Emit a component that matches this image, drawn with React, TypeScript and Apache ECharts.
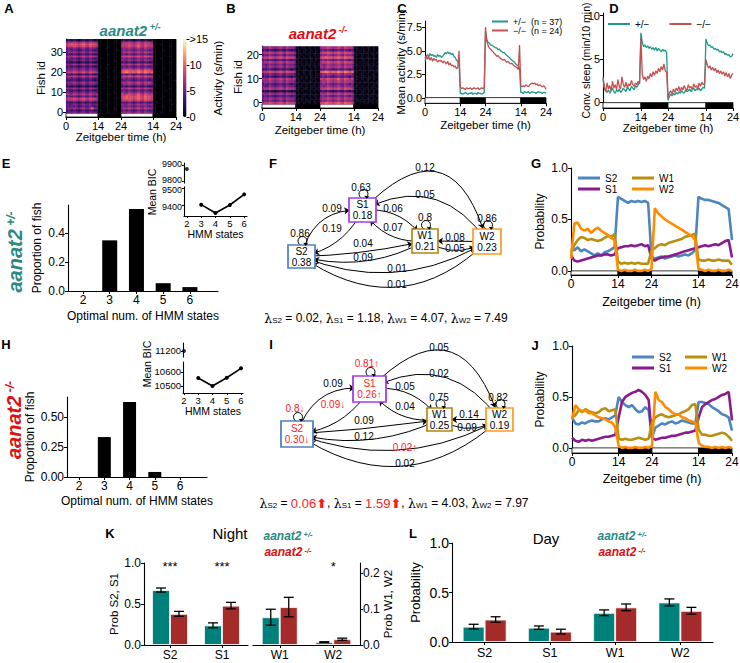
import React, { useEffect, useRef } from 'react';
import * as echarts from 'echarts';

const FONT = '"Liberation Sans", Arial, Helvetica, sans-serif';
const TEAL_LINE = '#1d9a8c';
const RED_LINE = '#c45050';
const TEAL_BAR = '#00807a';
const RED_BAR = '#a52a2a';
const TEAL_TXT = '#2a8a82';
const RED_TXT = '#e01010';
const RED = '#ff1a1a';
const STATE_COLORS = ['#4c86c0', '#8b1a8e', '#b8900f', '#ff8c00'];
const BOX_COLORS = ['#4f83be', '#a53be6', '#b8860b', '#ff9a1f'];
const MAGMA = ['#000004', '#1c1044', '#4f127b', '#812581', '#b5367a', '#e55064', '#fb8761', '#fec287', '#fcfdbf'];

// ---------------- data ----------------
const zeitTicks = [0, 14, 24, 38, 48];
const lightDark = [[0, 14, 0], [14, 24, 1], [24, 38, 0], [38, 48, 1]];

// activity heatmaps: one hex digit per hour (0..15 s/min), rows = fish id from 0 upwards
const heatHetRows = [
  '45565456546554|0000100000|56676567657665|0001000000',
  '34343234334323|0100000000|45454345445434|0000000100',
  '56676567657a65|0000000100|67787678768776|1000000000',
  '44545345445434|0000000000|55565456556545|0000100000',
  '54565456556455|0001000000|65676567667566|0000000010',
  '33343234234323|0000100000|44454345345434|0100000000',
  '67787678768776|0100000000|78898789879887|0000000100',
  '78898789879887|0000000010|89a9989a98a998|0001000000',
  '45454345445434|1000000000|89a9989a98a998|0000100000',
  '76787678768767|0000100000|8789878a879878|0000000000',
  '55465456546554|0000000100|66576567657665|0100000000',
  '34343234334323|0000000000|45454345445434|0000010000',
  '65676567657665|0010000000|76787678768776|0000000100',
  '23232123223212|0000000000|34343234334323|0000000000',
  '45565456546554|0000010000|56676567657665|1000000000',
  '56676567657665|0000000000|67787678768786|0000100000',
  '33443234334323|0100000000|44554345445434|0000000001',
  '45454345445434|0000000100|56565456556545|0000000000',
  '67787678768776|0000100000|78898789879887|0010000000',
  '34343234334323|0000000000|45454345445434|0000001000',
  '78898789879887|1000000000|9aba9a9ba9ba9a|0000000100',
  '56676567657665|0000000100|89a9989a98a998|0000000000',
  '45565456546554|0001000000|56676567657665|0000100000',
  '34343234334323|0000000000|45454345445434|0000000000',
  '65676567657665|0000100000|76787678768776|0100000000',
  '23232123223212|0000000000|34343234334323|0000000100',
  '54565456546554|0000000100|65676567657665|0000000000',
  '45454345445434|0100000000|56565456556545|0001000000',
  '67787678768776|0000000000|78898789879887|0000000100',
  '34343234334323|0000100000|45454345445434|0000000000',
  '56676567657665|0000000000|67787678768776|1000000000',
  '45454345445434|0000000010|56565456556545|0000100000',
  '45565456546554|0001000000|56676567657665|0000000000',
  '78898789879887|0000100000|8789878a879878|0000000100',
  '89a9989a98a998|0000000000|78898789879887|0001000000',
  '67787678768776|0000000100|67787678768776|0000000000',
  '23232123223212|0000000000|23232123223212|0000000000',
];
const heatMutRows = [
  '78898789879887|1101010110|89a9989a98a998|1010110101',
  '45565456546554|1010110101|56676567657665|0110101101',
  '56676567657665|0110101011|67787678768776|1101011010',
  '45454345445434|1011010110|56565456556545|1010101101',
  '65676567657665|0101101010|76787678768776|1011010110',
  '23232123223212|1010010101|34343234334323|0101101010',
  '67787678768776|1101101011|78898789879887|1010110101',
  '54565456546554|0110101101|65676567657665|1101010110',
  '45454345445434|1010110101|56565456556545|0110101011',
  '56676567657665|1101011010|67787678768776|1010110101',
  '76787678768767|0110101101|8789878a879878|1101011010',
  '34343234334323|1010101010|45454345445434|0101101010',
  '45565456546554|1101011011|56676567657665|1011010110',
  '78898789879887|1011011010|9aba9a9ba9ba9a|1101101011',
  '33443234334323|0101101010|44554345445434|1010101101',
  '65676567657665|1101010110|76787678768776|0110101101',
  '54565456546554|1010110101|65676567657665|1101011010',
  '67787678768776|0110101101|78898789879887|1010110101',
  '45454345445434|1010101010|56565456556545|0101101010',
  '78898789879887|1101011011|89a9989a98a998|1011011010',
  '45565456546554|0110110101|56676567657665|1101010110',
  '67787678768776|1101010110|78898789879887|1010110101',
  '34343234334323|0101101010|45454345445434|0110101010',
  '56676567657665|1011010101|67787678768776|1101011010',
];

// C: mean activity (s/min), every 0.5 h from 0 to 48 h
const actHet = [
  3.9, 4.3, 4.6, 4.4, 4.7, 4.5, 4.6, 4.4, 4.5, 4.3, 4.6, 4.4, 4.5, 4.3, 4.4, 4.6, 4.8, 4.7, 4.9, 4.7, 4.8, 4.6, 4.7, 4.4, 4.3, 4.0, 3.9, 3.7,
  0.5, 0.5, 0.4, 0.5, 0.6, 0.5, 0.4, 0.5, 0.5, 0.6, 0.4, 0.5, 0.5, 0.4, 0.6, 0.5, 0.5, 0.4, 0.5, 0.6,
  7.0, 6.2, 5.9, 5.8, 5.6, 5.6, 5.5, 5.4, 5.3, 5.3, 5.1, 5.2, 5.0, 4.9, 4.8, 4.8, 4.6, 4.5, 4.4, 4.3, 4.1, 4.0, 3.9, 3.8, 3.6, 3.5, 3.4, 3.2,
  0.6, 0.6, 0.5, 0.7, 0.6, 0.6, 0.7, 0.5, 0.6, 0.7, 0.6, 0.6, 0.5, 0.6, 0.7, 0.6, 0.6, 0.5, 0.6, 0.6, 0.5,
];
const actMut = [
  4.2, 4.5, 4.1, 4.4, 4.0, 4.3, 3.9, 4.2, 4.0, 4.1, 3.8, 4.0, 3.9, 4.0, 3.7, 3.9, 3.8, 3.6, 3.9, 3.5, 3.7, 3.4, 3.5, 3.3, 3.4, 3.1, 3.2, 5.0,
  1.2, 1.0, 1.1, 1.0, 0.9, 1.1, 1.0, 1.0, 1.1, 0.9, 1.0, 1.1, 1.0, 1.0, 1.1, 0.9, 1.0, 1.1, 1.0, 1.1,
  7.5, 6.0, 5.6, 5.3, 5.2, 5.0, 4.9, 4.7, 4.6, 4.4, 4.5, 4.3, 4.2, 4.1, 4.0, 4.1, 3.9, 3.8, 3.9, 3.7, 3.6, 3.7, 3.5, 3.4, 3.3, 3.2, 3.0, 5.6,
  1.3, 1.2, 1.3, 1.2, 1.4, 1.3, 1.2, 1.4, 1.5, 1.6, 1.5, 1.6, 1.4, 1.5, 1.3, 1.4, 1.3, 1.2, 1.3, 1.2, 0.9,
];
// D: conv. sleep (min/10 min), every 0.5 h
const sleepHet = [
  2.7, 1.6, 1.3, 1.1, 1.4, 1.0, 1.3, 1.6, 1.2, 1.0, 1.4, 1.2, 1.5, 1.1, 1.3, 1.6, 1.4, 1.2, 1.7, 1.5, 1.3, 1.8, 1.6, 1.4, 1.9, 1.7, 2.0, 2.2,
  8.0, 6.9, 6.4, 6.6, 6.3, 6.5, 6.2, 6.4, 6.1, 6.3, 6.0, 6.3, 5.9, 6.2, 6.0, 5.8, 6.1, 5.9, 6.0, 5.7,
  0.2, 0.6, 0.9, 0.7, 1.0, 0.8, 1.1, 0.9, 1.2, 1.0, 1.3, 1.1, 1.0, 1.4, 1.2, 1.3, 1.5, 1.2, 1.4, 1.6, 1.3, 1.5, 1.4, 1.6, 1.3, 1.5, 1.7, 1.6,
  7.3, 6.8, 6.5, 6.6, 6.3, 6.4, 6.1, 6.2, 6.0, 6.1, 5.8, 5.9, 5.7, 5.8, 5.5, 5.6, 5.4, 5.5, 5.2, 5.3, 5.6,
];
const sleepMut = [
  2.9, 1.7, 1.2, 2.2, 1.5, 1.9, 1.3, 2.4, 1.6, 2.0, 1.4, 2.6, 1.8, 1.5, 2.9, 2.0, 1.7, 2.3, 1.6, 2.1, 1.9, 2.5, 2.0, 1.8, 2.2, 2.0, 2.4, 2.1,
  7.5, 3.2, 2.6, 2.9, 2.4, 3.0, 2.7, 3.3, 2.9, 3.5, 3.1, 3.6, 3.3, 3.9, 3.5, 4.1, 3.7, 4.4, 3.6, 3.4,
  0.5, 1.0, 1.3, 0.9, 1.5, 1.1, 1.6, 1.3, 1.8, 1.2, 1.7, 1.4, 1.9, 1.5, 1.3, 2.0, 1.6, 1.8, 1.4, 2.1, 1.7, 1.9, 1.5, 2.2, 1.8, 2.3, 2.0, 2.1,
  4.9, 4.3, 3.9, 4.2, 3.7, 4.0, 3.6, 3.9, 3.4, 3.7, 3.3, 3.6, 3.2, 3.5, 3.0, 3.4, 2.9, 3.3, 2.7, 3.1, 3.3,
];

// E / H: optimal number of HMM states
const hmmStates = [2, 3, 4, 5, 6];
const propHet = [0, 0.351, 0.568, 0.054, 0.027];
const propMut = [0, 0.333, 0.625, 0.042, 0];
const bicHet = [9876, 9402, 9352, 9400, 9464];
const bicMut = [11200, 10557, 10500, 10559, 10626];

// F / I: 4-state HMM
const states = ['S2', 'S1', 'W1', 'W2'];
const occHet = [0.38, 0.18, 0.21, 0.23];
const selfHet = [0.86, 0.63, 0.8, 0.86];
const transHet = [
  ['S2', 'S1', 0.09, ''], ['S1', 'S2', 0.19, ''], ['S1', 'W1', 0.06, ''], ['W1', 'S1', 0.07, ''],
  ['S2', 'W1', 0.04, ''], ['W1', 'S2', 0.09, ''], ['W2', 'W1', 0.08, ''], ['W1', 'W2', 0.05, ''],
  ['S2', 'W2', 0.01, ''], ['W2', 'S2', 0.01, ''], ['S1', 'W2', 0.12, ''], ['W2', 'S1', 0.05, ''],
];
const lambdaHet = [0.02, 1.18, 4.07, 7.49];
const occMut = [0.30, 0.26, 0.25, 0.19];
const occMutFlag = ['down', 'up', '', ''];
const selfMut = [0.8, 0.81, 0.75, 0.82];
const selfMutFlag = ['down', 'up', '', ''];
const transMut = [
  ['S2', 'S1', 0.09, ''], ['S1', 'S2', 0.09, 'down'], ['S1', 'W1', 0.05, ''], ['W1', 'S1', 0.04, ''],
  ['S2', 'W1', 0.09, ''], ['W1', 'S2', 0.12, ''], ['W2', 'W1', 0.14, ''], ['W1', 'W2', 0.09, ''],
  ['S2', 'W2', 0.02, 'up'], ['W2', 'S2', 0.02, ''], ['S1', 'W2', 0.05, ''], ['W2', 'S1', 0.02, ''],
];
const lambdaMut = [0.06, 1.59, 4.03, 7.97];
const lambdaMutFlag = ['up', 'up', '', ''];

// G / J: state probabilities, every hour 0..48
const probHetS2 = [0.22, 0.20, 0.23, 0.19, 0.21, 0.19, 0.17, 0.15, 0.17, 0.15, 0.18, 0.19, 0.21, 0.23, 0.72, 0.70, 0.68, 0.66, 0.68, 0.67, 0.68, 0.67, 0.68, 0.66, 0.14, 0.12, 0.13, 0.14, 0.12, 0.13, 0.14, 0.15, 0.14, 0.15, 0.16, 0.15, 0.17, 0.20, 0.72, 0.70, 0.69, 0.69, 0.68, 0.67, 0.66, 0.64, 0.62, 0.60, 0.30];
const probHetS1 = [0.15, 0.10, 0.09, 0.10, 0.11, 0.12, 0.13, 0.14, 0.15, 0.15, 0.16, 0.16, 0.15, 0.16, 0.22, 0.23, 0.24, 0.24, 0.25, 0.24, 0.25, 0.26, 0.24, 0.25, 0.12, 0.10, 0.12, 0.13, 0.14, 0.14, 0.15, 0.16, 0.17, 0.18, 0.19, 0.20, 0.21, 0.22, 0.23, 0.24, 0.25, 0.24, 0.25, 0.26, 0.25, 0.27, 0.29, 0.30, 0.13];
const probHetW1 = [0.18, 0.25, 0.30, 0.33, 0.32, 0.30, 0.31, 0.30, 0.29, 0.30, 0.32, 0.34, 0.33, 0.36, 0.09, 0.07, 0.08, 0.07, 0.08, 0.07, 0.08, 0.07, 0.07, 0.07, 0.20, 0.22, 0.25, 0.26, 0.25, 0.27, 0.28, 0.29, 0.30, 0.31, 0.33, 0.34, 0.35, 0.36, 0.11, 0.10, 0.10, 0.11, 0.10, 0.10, 0.11, 0.10, 0.10, 0.10, 0.06];
const probHetW2 = [0.12, 0.46, 0.47, 0.41, 0.39, 0.41, 0.37, 0.40, 0.42, 0.39, 0.37, 0.35, 0.32, 0.30, 0.01, 0.00, 0.01, 0.00, 0.00, 0.01, 0.00, 0.00, 0.01, 0.00, 0.02, 0.61, 0.56, 0.53, 0.50, 0.48, 0.46, 0.44, 0.42, 0.40, 0.38, 0.36, 0.34, 0.30, 0.02, 0.01, 0.00, 0.01, 0.00, 0.00, 0.01, 0.00, 0.00, 0.01, 0.00];
const probMutS2 = [0.30, 0.24, 0.23, 0.25, 0.24, 0.26, 0.27, 0.26, 0.26, 0.28, 0.29, 0.28, 0.30, 0.32, 0.50, 0.45, 0.42, 0.40, 0.42, 0.38, 0.35, 0.36, 0.40, 0.37, 0.10, 0.20, 0.22, 0.24, 0.23, 0.25, 0.26, 0.24, 0.25, 0.27, 0.26, 0.25, 0.24, 0.24, 0.45, 0.45, 0.44, 0.43, 0.40, 0.38, 0.36, 0.33, 0.32, 0.30, 0.17];
const probMutS1 = [0.10, 0.07, 0.06, 0.08, 0.07, 0.08, 0.07, 0.08, 0.09, 0.10, 0.11, 0.11, 0.12, 0.13, 0.30, 0.45, 0.50, 0.52, 0.54, 0.55, 0.57, 0.55, 0.52, 0.47, 0.10, 0.08, 0.09, 0.10, 0.10, 0.11, 0.12, 0.12, 0.13, 0.14, 0.15, 0.15, 0.16, 0.17, 0.30, 0.40, 0.43, 0.45, 0.47, 0.48, 0.50, 0.52, 0.53, 0.55, 0.27];
const probMutW1 = [0.30, 0.32, 0.37, 0.35, 0.38, 0.36, 0.35, 0.34, 0.35, 0.38, 0.39, 0.36, 0.37, 0.38, 0.09, 0.08, 0.09, 0.08, 0.08, 0.09, 0.10, 0.09, 0.08, 0.09, 0.25, 0.30, 0.32, 0.33, 0.31, 0.30, 0.31, 0.32, 0.33, 0.35, 0.36, 0.38, 0.42, 0.43, 0.18, 0.13, 0.13, 0.12, 0.12, 0.13, 0.14, 0.15, 0.14, 0.11, 0.07];
const probMutW2 = [0.28, 0.42, 0.38, 0.36, 0.37, 0.34, 0.34, 0.32, 0.30, 0.29, 0.28, 0.26, 0.25, 0.20, 0.02, 0.00, 0.01, 0.00, 0.00, 0.01, 0.00, 0.00, 0.01, 0.00, 0.02, 0.55, 0.47, 0.45, 0.40, 0.38, 0.35, 0.33, 0.33, 0.30, 0.29, 0.27, 0.26, 0.25, 0.05, 0.02, 0.01, 0.01, 0.00, 0.01, 0.00, 0.01, 0.00, 0.01, 0.00];

// K / L: state probabilities at night and during the day
const nightHet = [0.67, 0.24, 0.077, 0.008];
const nightHetErr = [0.025, 0.03, 0.022, 0.001];
const nightMut = [0.38, 0.48, 0.105, 0.016];
const nightMutErr = [0.03, 0.04, 0.027, 0.003];
const nightStars = ['***', '***', '', '*'];
const dayHet = [0.155, 0.145, 0.295, 0.40];
const dayHetErr = [0.024, 0.017, 0.029, 0.035];
const dayMut = [0.227, 0.105, 0.35, 0.315];
const dayMutErr = [0.028, 0.024, 0.034, 0.035];

// ---------------- layout (positions only) ----------------
const diagF = {
  S2: { x: 301.5, y: 256.5, w: 27, h: 23 }, S1: { x: 362.5, y: 210, w: 27, h: 24 },
  W1: { x: 425, y: 241, w: 26, h: 24 }, W2: { x: 487, y: 241.5, w: 28, h: 25 },
};
const curvF = { 'S2>S1': 0.42, 'S1>S2': 0.25, 'S1>W1': 0.3, 'W1>S1': 0.3, 'S2>W1': -0.05, 'W1>S2': 0.2, 'W2>W1': 0, 'W1>W2': -0.3, 'S2>W2': -0.25, 'W2>S2': 0.41, 'S1>W2': 0.86, 'W2>S1': -0.44 };
const lblF = { 'S2>S1': [332, 208], 'S1>S2': [332, 228], 'S1>W1': [393, 208], 'W1>S1': [393, 227], 'S2>W1': [363, 243], 'W1>S2': [363, 257], 'W2>W1': [455, 237], 'W1>W2': [455, 248], 'S2>W2': [397, 268], 'W2>S2': [397, 284], 'S1>W2': [425, 167], 'W2>S1': [425, 194] };
const selfLblF = { S2: [300, 233], S1: [361, 187], W1: [425, 217], W2: [487, 218] };
const diagI = {
  S2: { x: 297, y: 434, w: 32, h: 26 }, S1: { x: 369.5, y: 389, w: 33, h: 26 },
  W1: { x: 439.5, y: 419.5, w: 25, h: 23 }, W2: { x: 499.5, y: 419.5, w: 27, h: 23 },
};
const curvI = { 'S2>S1': 0.42, 'S1>S2': 0.25, 'S1>W1': 0.3, 'W1>S1': 0.3, 'S2>W1': -0.02, 'W1>S2': 0.18, 'W2>W1': 0, 'W1>W2': -0.3, 'S2>W2': -0.23, 'W2>S2': 0.39, 'S1>W2': 0.82, 'W2>S1': -0.43 };
const lblI = { 'S2>S1': [333, 383], 'S1>S2': [333, 404], 'S1>W1': [405, 386], 'W1>S1': [405, 406], 'S2>W1': [364, 420], 'W1>S2': [364, 436], 'W2>W1': [469, 414], 'W1>W2': [467, 427], 'S2>W2': [405, 447], 'W2>S2': [405, 463], 'S1>W2': [439, 347], 'W2>S1': [439, 373] };
const selfLblI = { S2: [295, 408], S1: [367, 363], W1: [439, 397], W2: [498, 397] };

// ---------------- helpers ----------------
const hoursHalf = actHet.map((_, i) => i / 2);
const hours = probHetS2.map((_, i) => i);
const arrowFor = (f) => (f === 'up' ? '↑' : f === 'down' ? '↓' : '');

function rowsToCells(rows) {
  const cells = [];
  rows.forEach((r, i) => {
    const s = r.replace(/\|/g, '');
    for (let j = 0; j < s.length; j++) cells.push([j, i, parseInt(s[j], 16)]);
  });
  return cells;
}

function valAxis(p) {
  const vertical = !!p.vertical;
  return {
    gridIndex: p.gridIndex, type: 'value', min: p.min, max: p.max, position: p.position, show: p.show !== false,
    axisLine: { show: p.line !== false, onZero: false, lineStyle: { color: '#000', width: 1.1 } },
    axisTick: { show: true, length: p.tickLen || 3, lineStyle: { color: '#000', width: 1 }, customValues: p.ticks },
    axisLabel: { show: true, customValues: p.ticks, formatter: p.fmt || ((v) => String(v)), rich: p.rich, color: '#000', fontSize: p.fontSize || 11, fontFamily: FONT, margin: p.margin || 3 },
    splitLine: { show: false },
    name: p.name, nameLocation: 'middle', nameGap: p.nameGap, nameRotate: vertical ? 90 : 0, nameMoveOverlap: false,
    nameTextStyle: { color: '#000', fontSize: p.nameSize || 11.5, fontFamily: FONT },
  };
}
const timeAxis = (gridIndex, fontSize, nameGap) => valAxis({
  gridIndex, min: 0, max: 48, ticks: zeitTicks, fmt: (v) => String(v > 24 ? v - 24 : v),
  fontSize, name: 'Zeitgeber time (h)', nameGap, nameSize: fontSize + 0.5,
});
const hiddenAxis = (gridIndex, min, max) => ({ gridIndex, type: 'value', show: false, min, max });
const catAxis = (gridIndex, data, fontSize) => ({
  gridIndex, type: 'category', data,
  axisLine: { show: true, lineStyle: { color: '#000', width: 1.1 } },
  axisTick: { show: true, alignWithLabel: true, length: 3, lineStyle: { color: '#000' } },
  axisLabel: { color: '#000', fontSize, fontFamily: FONT, margin: 4 },
  splitLine: { show: false },
});
// broken-axis labels of the insets: nudge the upper part up and the lower part down
const upFmt = (v) => '{u|' + v + '}';
const downFmt = (v) => '{d|' + v + '}';
const upRich = { u: { fontSize: 9, fontFamily: FONT, color: '#000', padding: [0, 0, 3, 0] } };
const downRich = { d: { fontSize: 9, fontFamily: FONT, color: '#000', padding: [3, 0, 0, 0] } };

const heatSeries = (idx, cells) => ({
  type: 'custom', xAxisIndex: idx, yAxisIndex: idx, data: cells, silent: true, z: 2,
  encode: { x: 0, y: 1 },
  renderItem: (params, api) => {
    const x = api.value(0), y = api.value(1);
    const a = api.coord([x, y + 0.5]);
    const b = api.coord([x + 1, y - 0.5]);
    return { type: 'rect', shape: { x: a[0], y: a[1], width: b[0] - a[0] + 0.4, height: b[1] - a[1] + 0.4 }, style: { fill: api.visual('color') } };
  },
});
const ldSeries = (idx, yTop, yBot) => ({
  type: 'custom', xAxisIndex: idx, yAxisIndex: idx, data: lightDark, silent: true, z: 1,
  encode: { x: [0, 1] },
  renderItem: (params, api) => {
    const a = api.coord([api.value(0), yTop]);
    const b = api.coord([api.value(1), yBot]);
    return { type: 'rect', shape: { x: a[0], y: a[1], width: b[0] - a[0], height: b[1] - a[1] }, style: { fill: api.value(2) ? '#000' : '#fff', stroke: '#000', lineWidth: 0.8 } };
  },
});
const lineSeries = (name, idx, xs, ys, color, width) => ({
  type: 'line', name, xAxisIndex: idx, yAxisIndex: idx, data: xs.map((t, i) => [t, ys[i]]),
  showSymbol: false, symbol: 'none', lineStyle: { color, width }, itemStyle: { color }, silent: true, z: 3,
});
const barSeries = (idx, data, color, width) => ({
  type: 'bar', xAxisIndex: idx, yAxisIndex: idx, data, barWidth: width, barGap: '0%', silent: true,
  itemStyle: { color, borderColor: 'rgba(255,255,255,0.75)', borderWidth: 1 },
});
const errSeries = (idx, means, errs, offset, cap) => ({
  type: 'custom', xAxisIndex: idx, yAxisIndex: idx, silent: true, z: 6,
  data: means.map((m, i) => [i, m, errs[i]]),
  renderItem: (params, api) => {
    const i = api.value(0), m = api.value(1), e = api.value(2);
    const t = api.coord([i, m + e]);
    const b = api.coord([i, m - e]);
    const x = t[0] + offset;
    const st = { stroke: '#000', lineWidth: 1.3 };
    return {
      type: 'group', children: [
        { type: 'line', shape: { x1: x, y1: t[1], x2: x, y2: b[1] }, style: st },
        { type: 'line', shape: { x1: x - cap, y1: t[1], x2: x + cap, y2: t[1] }, style: st },
        { type: 'line', shape: { x1: x - cap, y1: b[1], x2: x + cap, y2: b[1] }, style: st },
      ],
    };
  },
});
const starSeries = (idx, yVal, labels) => ({
  type: 'custom', xAxisIndex: idx, yAxisIndex: idx, silent: true, z: 6,
  data: labels.map((s, i) => [i, yVal]),
  renderItem: (params, api) => {
    const c = api.coord([api.value(0), api.value(1)]);
    return { type: 'text', x: c[0], y: c[1] + 3, style: { text: labels[params.dataIndex], align: 'center', verticalAlign: 'middle', fontSize: 13, fontFamily: FONT, fill: '#000' } };
  },
});

function graphSeries(layout, occ, occFlags, trans, curv, redNames) {
  const xs = states.map((s) => layout[s].x);
  const ys = states.map((s) => layout[s].y);
  const minX = Math.min(...xs), maxX = Math.max(...xs), minY = Math.min(...ys), maxY = Math.max(...ys);
  return {
    type: 'graph', layout: 'none', left: minX, top: minY, width: maxX - minX, height: maxY - minY,
    roam: false, silent: true, z: 4, symbol: 'rect', edgeSymbol: ['none', 'arrow'], edgeSymbolSize: 5.5,
    lineStyle: { color: '#000', width: 1, opacity: 1 }, edgeLabel: { show: false },
    label: { show: true, position: 'inside', fontSize: 10, lineHeight: 11, fontFamily: FONT, color: '#000' },
    data: states.map((s, i) => ({
      name: s, x: layout[s].x, y: layout[s].y, symbolSize: [layout[s].w, layout[s].h],
      itemStyle: { color: '#fff', borderColor: BOX_COLORS[i], borderWidth: 1.6 },
      label: { formatter: s + '\n' + occ[i].toFixed(2) + arrowFor(occFlags[i]), color: redNames[i] ? RED : '#000' },
    })),
    links: trans.map((t) => ({ source: t[0], target: t[1], lineStyle: { curveness: curv[t[0] + '>' + t[1]] } })),
  };
}

function diagramGraphics(layout, trans, lbl, selfVals, selfFlags, selfLbl) {
  const els = [];
  trans.forEach((t) => {
    const p = lbl[t[0] + '>' + t[1]];
    els.push({ type: 'text', x: p[0], y: p[1], z: 100, style: { text: String(t[2]) + arrowFor(t[3]), align: 'center', verticalAlign: 'middle', fontSize: 10, fontFamily: FONT, fill: t[3] ? RED : '#000' } });
  });
  states.forEach((s, i) => {
    const n = layout[s];
    const r = 4.5;
    const cx = n.x + 1;
    const top = n.y - n.h / 2;
    const cy = top - r + 0.5;
    const a1 = 0.22 * Math.PI;
    const ex = cx + r * Math.cos(a1), ey = cy + r * Math.sin(a1);
    els.push({ type: 'arc', z: 99, shape: { cx, cy, r, startAngle: 0.72 * Math.PI, endAngle: 2.22 * Math.PI, clockwise: true }, style: { stroke: '#000', fill: 'none', lineWidth: 1 } });
    els.push({ type: 'polygon', z: 99, shape: { points: [[ex - 2.7, ey - 1.2], [ex + 2.3, ey - 0.3], [ex - 0.4, top + 0.8]] }, style: { fill: '#000' } });
    const p = selfLbl[s];
    els.push({ type: 'text', x: p[0], y: p[1], z: 100, style: { text: String(selfVals[i]) + arrowFor(selfFlags[i]), align: 'center', verticalAlign: 'middle', fontSize: 10, fontFamily: FONT, fill: selfFlags[i] ? RED : '#000' } });
  });
  return els;
}

function lambdaText(vals, flags) {
  return states.map((s, i) => '{l|λ}{s|' + s + '}{n| = }' + (flags[i] ? '{r|' + vals[i].toFixed(2) + '}{u|⬆}' : '{n|' + vals[i].toFixed(2) + '}')).join('{n|, }');
}
const lambdaRich = {
  n: { fontSize: 12, fontFamily: FONT, fill: '#000' },
  l: { fontSize: 12.5, fontFamily: '"DejaVu Serif", serif', fill: '#000' },
  s: { fontSize: 8, fontFamily: FONT, fill: '#000', verticalAlign: 'bottom', padding: [5, 0, 0, 0] },
  r: { fontSize: 13, fontFamily: FONT, fill: RED },
  u: { fontSize: 13, fontFamily: '"DejaVu Sans", sans-serif', fill: RED, fontWeight: 'bold' },
};
const genoRich = (size, supSize, color) => ({
  a: { fontSize: size, fontWeight: 'bold', fontStyle: 'italic', fontFamily: FONT, fill: color },
  s: { fontSize: supSize, fontWeight: 'bold', fontStyle: 'italic', fontFamily: FONT, fill: color, verticalAlign: 'top' },
});
const genoText = (x, y, sup, size, supSize, color, rotation) => ({
  type: 'text', x, y, rotation: rotation || 0, z: 100,
  style: { text: '{a|aanat2}{s| ' + sup + '}', rich: genoRich(size, supSize, color), align: 'center', verticalAlign: 'middle' },
});
const plainText = (x, y, text, size, extra) => ({
  type: 'text', x, y, z: 100,
  style: Object.assign({ text, align: 'center', verticalAlign: 'middle', fontSize: size, fontFamily: FONT, fill: '#000' }, extra || {}),
});

function buildOption() {
  const grids = [
    { left: 66, top: 39, width: 110, height: 78 },
    { left: 183, top: 39, width: 3.5, height: 78 },
    { left: 262, top: 46, width: 116, height: 62 },
    { left: 425, top: 21, width: 121, height: 82.3 },
    { left: 603, top: 13, width: 130, height: 95 },
    { left: 68, top: 205, width: 150, height: 86 },
    { left: 184, top: 163, width: 63, height: 20 },
    { left: 184, top: 186.7, width: 63, height: 29.3 },
    { left: 571, top: 168, width: 161, height: 107 },
    { left: 67, top: 397, width: 140, height: 80 },
    { left: 183, top: 343, width: 60, height: 14 },
    { left: 183, top: 362, width: 60, height: 31 },
    { left: 572, top: 346, width: 160, height: 107 },
    { left: 144, top: 563, width: 104, height: 82 },
    { left: 253, top: 563, width: 107, height: 82 },
    { left: 452, top: 543, width: 261, height: 99 },
  ].map((g) => Object.assign({}, g, { containLabel: false, outerBoundsMode: 'none' }));

  const f1 = (v) => v.toFixed(1);
  const xAxis = [
    timeAxis(0, 11, 14),
    hiddenAxis(1, 0, 1),
    timeAxis(2, 11, 16),
    timeAxis(3, 11, 16),
    timeAxis(4, 11, 14),
    valAxis({ gridIndex: 5, min: 1.44, max: 7.05, ticks: hmmStates, fontSize: 12, name: 'Optimal num. of HMM states', nameGap: 19, nameSize: 12 }),
    hiddenAxis(6, 1.8, 6.2),
    valAxis({ gridIndex: 7, min: 1.8, max: 6.2, ticks: hmmStates, fontSize: 9.5, tickLen: 2, margin: 2, name: 'HMM states', nameGap: 12, nameSize: 10.5 }),
    timeAxis(8, 12, 20),
    valAxis({ gridIndex: 9, min: 1.52, max: 7.07, ticks: hmmStates, fontSize: 12, name: 'Optimal num. of HMM states', nameGap: 18, nameSize: 12 }),
    hiddenAxis(10, 1.93, 6.14),
    valAxis({ gridIndex: 11, min: 1.93, max: 6.14, ticks: hmmStates, fontSize: 9.5, tickLen: 2, margin: 2, name: 'HMM states', nameGap: 12.5, nameSize: 10.5 }),
    timeAxis(12, 12, 19),
    catAxis(13, ['S2', 'S1'], 12),
    catAxis(14, ['W1', 'W2'], 12),
    catAxis(15, states, 12.5),
  ];
  const yAxis = [
    valAxis({ gridIndex: 0, vertical: true, min: -2.5, max: 36.5, ticks: [0, 10, 20, 30], name: 'Fish id', nameGap: 19 }),
    valAxis({ gridIndex: 1, vertical: true, position: 'right', line: false, min: 0, max: 15, ticks: [0, 5, 10, 15], fmt: (v) => (v === 15 ? '>15' : String(v)), name: 'Activity (s/min)', nameGap: 25 }),
    valAxis({ gridIndex: 2, vertical: true, min: -2.2, max: 23.6, ticks: [0, 10, 20], name: 'Fish id', nameGap: 18 }),
    valAxis({ gridIndex: 3, vertical: true, min: -0.55, max: 8.15, ticks: [0, 2.5, 5, 7.5], fmt: f1, name: 'Mean activity (s/min)', nameGap: 18 }),
    valAxis({ gridIndex: 4, vertical: true, min: -0.7, max: 10.3, ticks: [0, 5, 10], name: 'Conv. sleep (min/10 min)', nameGap: 12, nameSize: 10.5 }),
    valAxis({ gridIndex: 5, vertical: true, min: 0, max: 0.596, ticks: [0, 0.2, 0.4], fmt: f1, fontSize: 12, name: 'Proportion of fish', nameGap: 25, nameSize: 12 }),
    valAxis({ gridIndex: 6, vertical: true, min: 9792, max: 9912, ticks: [9800, 9900], fmt: upFmt, rich: upRich, fontSize: 9, tickLen: 2, margin: 2 }),
    valAxis({ gridIndex: 7, vertical: true, min: 9334, max: 9510, ticks: [9400, 9500], fmt: downFmt, rich: downRich, fontSize: 9, tickLen: 2, margin: 2 }),
    valAxis({ gridIndex: 8, vertical: true, min: -0.04, max: 1, ticks: [0, 0.5, 1], fmt: f1, fontSize: 12, name: 'Probability', nameGap: 25, nameSize: 12 }),
    valAxis({ gridIndex: 9, vertical: true, min: 0, max: 0.667, ticks: [0, 0.25, 0.5], fmt: (v) => v.toFixed(2), fontSize: 12, name: 'Proportion of fish', nameGap: 31, nameSize: 12 }),
    valAxis({ gridIndex: 10, vertical: true, min: 11157, max: 11257, ticks: [11200], fontSize: 9.5, tickLen: 2, margin: 2 }),
    valAxis({ gridIndex: 11, vertical: true, min: 10450, max: 10671, ticks: [10500, 10600], fontSize: 9.5, tickLen: 2, margin: 2 }),
    valAxis({ gridIndex: 12, vertical: true, min: -0.05, max: 1, ticks: [0, 0.5, 1], fmt: f1, fontSize: 12, name: 'Probability', nameGap: 26, nameSize: 12 }),
    valAxis({ gridIndex: 13, vertical: true, min: 0, max: 1, ticks: [0, 0.5, 1], fmt: f1, fontSize: 12, name: 'Prob S2, S1', nameGap: 24, nameSize: 11.5 }),
    valAxis({ gridIndex: 14, vertical: true, position: 'right', min: 0, max: 0.227, ticks: [0, 0.1, 0.2], fmt: f1, fontSize: 12, name: 'Prob W1, W2', nameGap: 22, nameSize: 11.5 }),
    valAxis({ gridIndex: 15, vertical: true, min: 0, max: 1, ticks: [0, 0.5, 1], fmt: f1, fontSize: 14, name: 'Probability', nameGap: 30, nameSize: 13 }),
  ];

  const series = [
    heatSeries(0, rowsToCells(heatHetRows)),
    heatSeries(2, rowsToCells(heatMutRows)),
    ldSeries(0, -0.55, -2.5),
    ldSeries(2, -0.55, -2.2),
    { type: 'line', xAxisIndex: 1, yAxisIndex: 1, data: [], silent: true },
    // C
    ldSeries(3, 0.05, -0.55),
    lineSeries('+/−  (n = 37)', 3, hoursHalf, actHet, TEAL_LINE, 1.3),
    lineSeries('−/−  (n = 24)', 3, hoursHalf, actMut, RED_LINE, 1.3),
    // D
    ldSeries(4, -0.08, -0.7),
    lineSeries('+/−', 4, hoursHalf, sleepHet, TEAL_LINE, 1.3),
    lineSeries('−/−', 4, hoursHalf, sleepMut, RED_LINE, 1.3),
    // E
    { type: 'bar', xAxisIndex: 5, yAxisIndex: 5, data: hmmStates.map((s, i) => [s, propHet[i]]), barWidth: 15, itemStyle: { color: '#000' }, silent: true },
    { type: 'scatter', xAxisIndex: 6, yAxisIndex: 6, data: [[hmmStates[0], bicHet[0]]], symbolSize: 4, itemStyle: { color: '#000' }, silent: true },
    { type: 'line', xAxisIndex: 7, yAxisIndex: 7, data: hmmStates.slice(1).map((s, i) => [s, bicHet[i + 1]]), symbol: 'circle', symbolSize: 4, showSymbol: true, lineStyle: { color: '#000', width: 1.6 }, itemStyle: { color: '#000' }, silent: true },
    // G
    ldSeries(8, 0, -0.04),
    lineSeries('S2', 8, hours, probHetS2, STATE_COLORS[0], 2.6),
    lineSeries('S1', 8, hours, probHetS1, STATE_COLORS[1], 2.6),
    lineSeries('W1', 8, hours, probHetW1, STATE_COLORS[2], 2.6),
    lineSeries('W2', 8, hours, probHetW2, STATE_COLORS[3], 2.6),
    // H
    { type: 'bar', xAxisIndex: 9, yAxisIndex: 9, data: hmmStates.map((s, i) => [s, propMut[i]]), barWidth: 13, itemStyle: { color: '#000' }, silent: true },
    { type: 'scatter', xAxisIndex: 10, yAxisIndex: 10, data: [[hmmStates[0], bicMut[0]]], symbolSize: 4, itemStyle: { color: '#000' }, silent: true },
    { type: 'line', xAxisIndex: 11, yAxisIndex: 11, data: hmmStates.slice(1).map((s, i) => [s, bicMut[i + 1]]), symbol: 'circle', symbolSize: 4, showSymbol: true, lineStyle: { color: '#000', width: 1.6 }, itemStyle: { color: '#000' }, silent: true },
    // J
    ldSeries(12, 0, -0.05),
    lineSeries('S2', 12, hours, probMutS2, STATE_COLORS[0], 2.6),
    lineSeries('S1', 12, hours, probMutS1, STATE_COLORS[1], 2.6),
    lineSeries('W1', 12, hours, probMutW1, STATE_COLORS[2], 2.6),
    lineSeries('W2', 12, hours, probMutW2, STATE_COLORS[3], 2.6),
    // K
    barSeries(13, nightHet.slice(0, 2), TEAL_BAR, 18),
    barSeries(13, nightMut.slice(0, 2), RED_BAR, 18),
    barSeries(14, nightHet.slice(2), TEAL_BAR, 18),
    barSeries(14, nightMut.slice(2), RED_BAR, 18),
    errSeries(13, nightHet.slice(0, 2), nightHetErr.slice(0, 2), -9, 5),
    errSeries(13, nightMut.slice(0, 2), nightMutErr.slice(0, 2), 9, 5),
    errSeries(14, nightHet.slice(2), nightHetErr.slice(2), -9, 5),
    errSeries(14, nightMut.slice(2), nightMutErr.slice(2), 9, 5),
    starSeries(13, 1, nightStars.slice(0, 2)),
    starSeries(14, 0.227, nightStars.slice(2)),
    // L
    barSeries(15, dayHet, TEAL_BAR, 22),
    barSeries(15, dayMut, RED_BAR, 22),
    errSeries(15, dayHet, dayHetErr, -11, 5),
    errSeries(15, dayMut, dayMutErr, 11, 5),
    // F, I
    graphSeries(diagF, occHet, ['', '', '', ''], transHet, curvF, [false, false, false, false]),
    graphSeries(diagI, occMut, occMutFlag, transMut, curvI, [true, true, false, false]),
  ];

  const legendBase = { icon: 'rect', padding: 0, selectedMode: false, textStyle: { color: '#000', fontFamily: FONT, fontSize: 10 } };
  const legend = [
    Object.assign({}, legendBase, { data: ['+/−  (n = 37)', '−/−  (n = 24)'], left: 492, top: 17, orient: 'vertical', itemWidth: 16, itemHeight: 2, itemGap: 0, textStyle: { color: '#000', fontFamily: FONT, fontSize: 9 } }),
    Object.assign({}, legendBase, { data: ['+/−', '−/−'], left: 608, top: 19, orient: 'horizontal', itemWidth: 22, itemHeight: 2, itemGap: 20 }),
    Object.assign({}, legendBase, { data: ['S2', 'S1'], left: 578, top: 173, orient: 'vertical', itemWidth: 22, itemHeight: 3, itemGap: 1 }),
    Object.assign({}, legendBase, { data: ['W1', 'W2'], left: 632, top: 173, orient: 'vertical', itemWidth: 22, itemHeight: 3, itemGap: 1 }),
    Object.assign({}, legendBase, { data: ['S2', 'S1'], left: 632, top: 352, orient: 'vertical', itemWidth: 22, itemHeight: 3, itemGap: 1 }),
    Object.assign({}, legendBase, { data: ['W1', 'W2'], left: 685, top: 352, orient: 'vertical', itemWidth: 22, itemHeight: 3, itemGap: 1 }),
  ];

  const letters = [['A', 9, 8], ['B', 231, 8], ['C', 402, 8], ['D', 614, 8], ['E', 6, 163], ['F', 273, 163], ['G', 536, 163], ['H', 6, 344], ['I', 271, 344], ['J', 535, 345], ['K', 110, 533], ['L', 413, 533]];
  const graphic = [
    ...letters.map((l) => plainText(l[1], l[2], l[0], 13, { fontWeight: 'bold' })),
    genoText(130, 30, '+/-', 15, 9, TEAL_TXT),
    genoText(318, 33, '-/-', 15, 9, RED_TXT),
    genoText(15, 252, '+/-', 20, 12, TEAL_TXT, Math.PI / 2),
    genoText(14, 420, '-/-', 20, 12, RED_TXT, Math.PI / 2),
    Object.assign(plainText(152, 192, 'Mean BIC', 10.5), { rotation: Math.PI / 2 }),
    Object.assign(plainText(147, 364, 'Mean BIC', 10.5), { rotation: Math.PI / 2 }),
    ...diagramGraphics(diagF, transHet, lblF, selfHet, ['', '', '', ''], selfLblF),
    ...diagramGraphics(diagI, transMut, lblI, selfMut, selfMutFlag, selfLblI),
    { type: 'text', x: 386, y: 318, z: 100, style: { text: lambdaText(lambdaHet, ['', '', '', '']), rich: lambdaRich, align: 'center', verticalAlign: 'middle' } },
    { type: 'text', x: 394, y: 503, z: 100, style: { text: lambdaText(lambdaMut, lambdaMutFlag), rich: lambdaRich, align: 'center', verticalAlign: 'middle' } },
    plainText(230, 533, 'Night', 15),
    plainText(546, 538, 'Day', 15),
    genoText(288, 536, '+/-', 12, 7.5, TEAL_TXT),
    genoText(288, 552, '-/-', 12, 7.5, RED_TXT),
    genoText(622, 536, '+/-', 12, 7.5, TEAL_TXT),
    genoText(622, 552, '-/-', 12, 7.5, RED_TXT),
  ];

  return {
    animation: false,
    backgroundColor: '#fff',
    textStyle: { fontFamily: FONT },
    grid: grids,
    xAxis,
    yAxis,
    visualMap: {
      type: 'continuous', min: 0, max: 15, dimension: 2, seriesIndex: [0, 1], inRange: { color: MAGMA },
      show: true, left: 183, top: 39, itemWidth: 3.5, itemHeight: 78, calculable: false, padding: 0, orient: 'vertical',
      textStyle: { color: '#000', fontSize: 1 },
    },
    legend,
    series,
    graphic,
  };
}

export default function App() {
  const ref = useRef(null);
  useEffect(() => {
    document.body.style.margin = '0';
    const chart = echarts.init(ref.current, null, { renderer: 'svg' });
    chart.setOption(buildOption());
    return () => chart.dispose();
  }, []);
  return <div ref={ref} style={{ width: 740, height: 663 }} />;
}
